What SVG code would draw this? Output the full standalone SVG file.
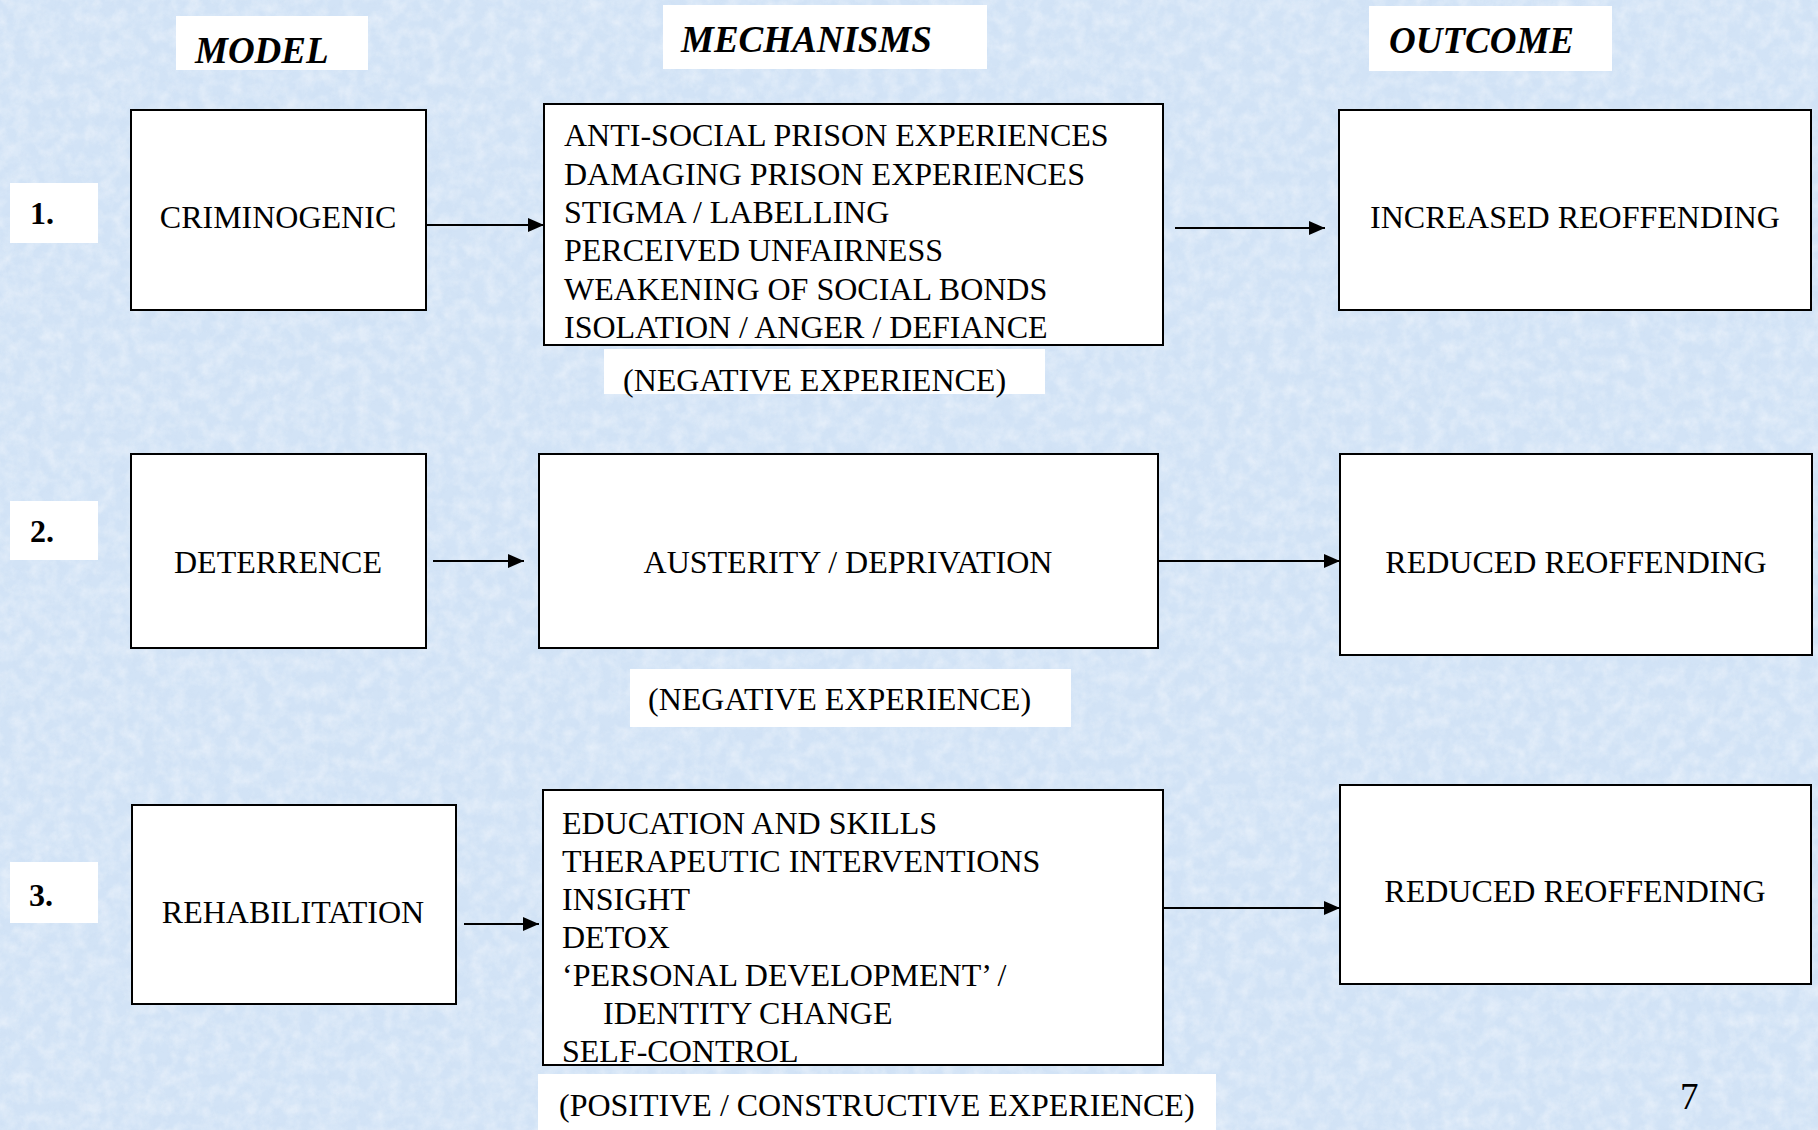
<svg xmlns="http://www.w3.org/2000/svg" width="1818" height="1130" viewBox="0 0 1818 1130">
  <style>
    text { font-family: "Liberation Serif", "Times New Roman", serif; fill: #000; }
    .t { font-size: 32px; }
    .c { text-anchor: middle; }
    .hdr { font-size: 37px; font-weight: bold; font-style: italic; }
    .num { font-size: 32px; font-weight: bold; }
    .box { fill: #fff; stroke: #000; stroke-width: 2; }
    .lab { fill: #fff; stroke: none; }
    .conn { stroke: #000; stroke-width: 2; fill: none; marker-end: url(#arr); }
  </style>
  <defs>
    <marker id="arr" markerUnits="userSpaceOnUse" markerWidth="17" markerHeight="14" refX="16" refY="7" orient="auto">
      <path d="M0,0 L16,7 L0,14 Z" fill="#000"/>
    </marker>
    <filter id="tex" x="0" y="0" width="1818" height="1130" filterUnits="userSpaceOnUse">
      <feTurbulence type="fractalNoise" baseFrequency="0.07" numOctaves="4" seed="7"/>
      <feColorMatrix type="matrix" values="0 0 0 0 1  0 0 0 0 1  0 0 0 0 1  0 0 0 1.3 -0.45"/>
    </filter>
    <filter id="tex2" x="0" y="0" width="1818" height="1130" filterUnits="userSpaceOnUse">
      <feTurbulence type="fractalNoise" baseFrequency="0.15" numOctaves="2" seed="11"/>
      <feColorMatrix type="matrix" values="0 0 0 0 0.6  0 0 0 0 0.72  0 0 0 0 0.88  0 0 0 1.2 -0.55"/>
    </filter>
  </defs>

  <rect x="0" y="0" width="1818" height="1130" fill="#d2e3f6"/>
  <rect x="0" y="0" width="1818" height="1130" fill="#fff" filter="url(#tex)" opacity="0.55"/>
  <rect x="0" y="0" width="1818" height="1130" fill="#fff" filter="url(#tex2)" opacity="0.45"/>

  <!-- headers -->
  <g id="hdr-model">
    <rect class="lab" x="176" y="16" width="192" height="54"/>
    <text class="hdr" x="195" y="63">MODEL</text>
  </g>
  <g id="hdr-mechanisms">
    <rect class="lab" x="663" y="5" width="324" height="64"/>
    <text class="hdr" x="681" y="52">MECHANISMS</text>
  </g>
  <g id="hdr-outcome">
    <rect class="lab" x="1369" y="6" width="243" height="65"/>
    <text class="hdr" x="1389" y="53">OUTCOME</text>
  </g>

  <!-- row numbers -->
  <g id="num-1">
    <rect class="lab" x="10" y="183" width="88" height="60"/>
    <text class="num" x="30" y="224">1.</text>
  </g>
  <g id="num-2">
    <rect class="lab" x="10" y="501" width="88" height="59"/>
    <text class="num" x="30" y="542">2.</text>
  </g>
  <g id="num-3">
    <rect class="lab" x="10" y="862" width="88" height="61"/>
    <text class="num" x="29" y="906">3.</text>
  </g>

  <!-- row 1 -->
  <g id="criminogenic">
    <rect class="box" x="131" y="110" width="295" height="200"/>
    <text class="t c" x="278" y="228">CRIMINOGENIC</text>
  </g>
  <g id="mech-1">
    <rect class="box" x="544" y="104" width="619" height="241"/>
    <text class="t">
      <tspan x="564" y="146">ANTI-SOCIAL PRISON EXPERIENCES</tspan>
      <tspan x="564" y="185">DAMAGING PRISON EXPERIENCES</tspan>
      <tspan x="564" y="223">STIGMA / LABELLING</tspan>
      <tspan x="564" y="261">PERCEIVED UNFAIRNESS</tspan>
      <tspan x="564" y="300">WEAKENING OF SOCIAL BONDS</tspan>
      <tspan x="564" y="338">ISOLATION / ANGER / DEFIANCE</tspan>
    </text>
  </g>
  <g id="label-neg-1">
    <rect class="lab" x="604" y="349" width="441" height="45"/>
    <text class="t" x="623" y="391">(NEGATIVE EXPERIENCE)</text>
  </g>
  <g id="outcome-1">
    <rect class="box" x="1339" y="110" width="472" height="200"/>
    <text class="t c" x="1575" y="228">INCREASED REOFFENDING</text>
  </g>

  <!-- row 2 -->
  <g id="deterrence">
    <rect class="box" x="131" y="454" width="295" height="194"/>
    <text class="t c" x="278" y="573">DETERRENCE</text>
  </g>
  <g id="mech-2">
    <rect class="box" x="539" y="454" width="619" height="194"/>
    <text class="t c" x="848" y="573">AUSTERITY / DEPRIVATION</text>
  </g>
  <g id="label-neg-2">
    <rect class="lab" x="630" y="669" width="441" height="58"/>
    <text class="t" x="648" y="710">(NEGATIVE EXPERIENCE)</text>
  </g>
  <g id="outcome-2">
    <rect class="box" x="1340" y="454" width="472" height="201"/>
    <text class="t c" x="1576" y="573">REDUCED REOFFENDING</text>
  </g>

  <!-- row 3 -->
  <g id="rehabilitation">
    <rect class="box" x="132" y="805" width="324" height="199"/>
    <text class="t c" x="293" y="923">REHABILITATION</text>
  </g>
  <g id="mech-3">
    <rect class="box" x="543" y="790" width="620" height="275"/>
    <text class="t">
      <tspan x="562" y="834">EDUCATION AND SKILLS</tspan>
      <tspan x="562" y="872">THERAPEUTIC INTERVENTIONS</tspan>
      <tspan x="562" y="910">INSIGHT</tspan>
      <tspan x="562" y="948">DETOX</tspan>
      <tspan x="562" y="986">‘PERSONAL DEVELOPMENT’ /</tspan>
      <tspan x="603" y="1024">IDENTITY CHANGE</tspan>
      <tspan x="562" y="1062">SELF-CONTROL</tspan>
    </text>
  </g>
  <g id="label-pos-3">
    <rect class="lab" x="538" y="1074" width="678" height="56"/>
    <text class="t" x="559" y="1116">(POSITIVE / CONSTRUCTIVE EXPERIENCE)</text>
  </g>
  <g id="outcome-3">
    <rect class="box" x="1340" y="785" width="471" height="199"/>
    <text class="t c" x="1575" y="902">REDUCED REOFFENDING</text>
  </g>

  <!-- page number -->
  <text x="1680" y="1109" style="font-size:37px">7</text>

  <!-- connectors -->
  <g id="connectors">
    <line class="conn" x1="426" y1="225" x2="544" y2="225"/>
    <line class="conn" x1="1175" y1="228" x2="1325" y2="228"/>
    <line class="conn" x1="433" y1="561" x2="524" y2="561"/>
    <line class="conn" x1="1158" y1="561" x2="1340" y2="561"/>
    <line class="conn" x1="464" y1="924" x2="539" y2="924"/>
    <line class="conn" x1="1163" y1="908" x2="1340" y2="908"/>
  </g>
</svg>
